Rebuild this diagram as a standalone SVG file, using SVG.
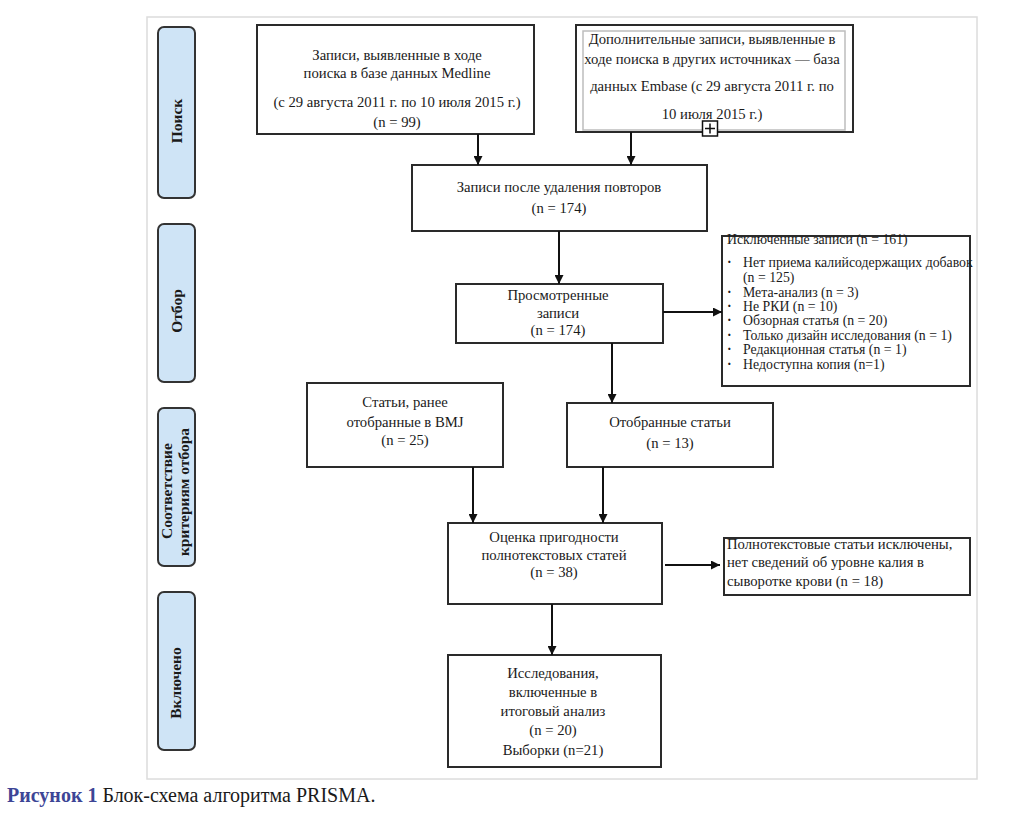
<svg xmlns="http://www.w3.org/2000/svg" width="1024" height="833" viewBox="0 0 1024 833">
<defs>
<marker id="ah" viewBox="0 0 10 10" refX="10" refY="5" markerWidth="9" markerHeight="9" markerUnits="userSpaceOnUse" orient="auto">
<path d="M0,0 L10,5 L0,10 z" fill="#111"/>
</marker>
<style>
.box{fill:#fff;stroke:#2a2a2a;stroke-width:2}
.bar{fill:#cfe4f6;stroke:#333;stroke-width:2}
.t{font-family:"Liberation Serif","Times New Roman",serif;font-size:14.7px;fill:#1a1a1a}
.l{font-size:13.8px}
.b{font-weight:bold}
.c{text-anchor:middle}
.side{font-family:"Liberation Serif","Times New Roman",serif;font-size:15.5px;font-weight:bold;fill:#1a1a1a;text-anchor:middle}
.conn{stroke:#111;stroke-width:2;fill:none;marker-end:url(#ah)}
</style>
</defs>
<rect width="1024" height="833" fill="#fff"/>
<rect x="147" y="17" width="830" height="762" fill="#fff" stroke="#dcdcdc" stroke-width="1.5"/>

<g id="stage-search">
<rect class="bar" x="158" y="27" width="37" height="171" rx="6"/>
<text class="side" transform="translate(182,121) rotate(-90)">Поиск</text>
</g>
<g id="stage-screening">
<rect class="bar" x="158" y="224" width="37" height="158" rx="6"/>
<text class="side" transform="translate(182,311) rotate(-90)">Отбор</text>
</g>
<g id="stage-eligibility">
<rect class="bar" x="158" y="408" width="37" height="158" rx="6"/>
<text class="side" transform="translate(172,491) rotate(-90)">Соответствие</text>
<text class="side" transform="translate(189,492) rotate(-90)">критериям отбора</text>
</g>
<g id="stage-included">
<rect class="bar" x="158" y="592" width="37" height="158" rx="6"/>
<text class="side" transform="translate(181,683) rotate(-90)">Включено</text>
</g>

<g id="medline">
<rect class="box" x="257" y="25" width="277" height="109"/>
<text class="t c" x="397" y="60">Записи, выявленные в ходе</text>
<text class="t c" x="397" y="78">поиска в базе данных Medline</text>
<text class="t c" x="397" y="107">(с 29 августа 2011 г. по 10 июля 2015 г.)</text>
<text class="t c" x="397" y="127">(n = 99)</text>
</g>

<g id="embase">
<rect class="box" x="576" y="25" width="277" height="107"/>
<rect x="583" y="31" width="262" height="99" fill="none" stroke="#bdbdbd" stroke-width="1.5"/>
<text class="t c" x="712" y="44">Дополнительные записи, выявленные в</text>
<text class="t c" x="712" y="64">ходе поиска в других источниках — база</text>
<text class="t c" x="712" y="91">данных Embase (с 29 августа 2011 г. по</text>
<text class="t c" x="712" y="119">10 июля 2015 г.)</text>
<rect x="702.5" y="121" width="15" height="15" fill="#fff" stroke="#111" stroke-width="1.5"/>
<path d="M705 128.5 H715 M710 123.5 V133.5" stroke="#111" stroke-width="1.5"/>
</g>

<g id="dedup">
<rect class="box" x="412" y="165" width="295" height="66"/>
<text class="t c" x="559" y="192">Записи после удаления повторов</text>
<text class="t c" x="559" y="213">(n = 174)</text>
</g>

<g id="screened">
<rect class="box" x="456" y="284" width="207" height="59"/>
<text class="t c" x="558" y="300">Просмотренные</text>
<text class="t c" x="558" y="318">записи</text>
<text class="t c" x="558" y="335">(n = 174)</text>
</g>

<g id="excluded">
<rect class="box" x="722" y="236" width="248" height="150"/>
<text class="t l" x="727" y="244">Исключенные записи (n = 161)</text>
<g class="t l">
<text class="b" x="727" y="267">·</text><text x="743" y="267">Нет приема калийсодержащих добавок</text>
<text x="743" y="282">(n = 125)</text>
<text class="b" x="727" y="297">·</text><text x="743" y="297">Мета-анализ (n = 3)</text>
<text class="b" x="727" y="311">·</text><text x="743" y="311">Не РКИ (n = 10)</text>
<text class="b" x="727" y="325">·</text><text x="743" y="325">Обзорная статья (n = 20)</text>
<text class="b" x="727" y="340">·</text><text x="743" y="340">Только дизайн исследования (n = 1)</text>
<text class="b" x="727" y="354">·</text><text x="743" y="354">Редакционная статья (n = 1)</text>
<text class="b" x="727" y="369">·</text><text x="743" y="369">Недоступна копия (n=1)</text>
</g>
</g>

<g id="bmj">
<rect class="box" x="307" y="383" width="196" height="84"/>
<text class="t c" x="405" y="407">Статьи, ранее</text>
<text class="t c" x="405" y="427">отобранные в BMJ</text>
<text class="t c" x="405" y="445">(n = 25)</text>
</g>

<g id="selected">
<rect class="box" x="567" y="403" width="206" height="64"/>
<text class="t c" x="670" y="427">Отобранные статьи</text>
<text class="t c" x="670" y="448">(n = 13)</text>
</g>

<g id="assessment">
<rect class="box" x="448" y="523" width="214" height="81"/>
<text class="t c" x="554" y="542">Оценка пригодности</text>
<text class="t c" x="554" y="560">полнотекстовых статей</text>
<text class="t c" x="554" y="577">(n = 38)</text>
</g>

<g id="fulltext-excluded">
<rect class="box" x="724" y="538" width="246" height="57"/>
<text class="t" x="727" y="549">Полнотекстовые статьи исключены,</text>
<text class="t" x="727" y="567">нет сведений об уровне калия в</text>
<text class="t" x="727" y="586">сыворотке крови (n = 18)</text>
</g>

<g id="included">
<rect class="box" x="448" y="655" width="213" height="112"/>
<text class="t c" x="553" y="678">Исследования,</text>
<text class="t c" x="553" y="697">включенные в</text>
<text class="t c" x="553" y="716">итоговый анализ</text>
<text class="t c" x="553" y="735">(n = 20)</text>
<text class="t c" x="553" y="755">Выборки (n=21)</text>
</g>

<g id="connectors">
<line class="conn" x1="478" y1="134" x2="478" y2="165"/>
<line class="conn" x1="631" y1="132" x2="631" y2="165"/>
<line class="conn" x1="559" y1="231" x2="559" y2="284"/>
<line class="conn" x1="663" y1="312" x2="722" y2="312"/>
<line class="conn" x1="612" y1="343" x2="612" y2="403"/>
<line class="conn" x1="473" y1="467" x2="473" y2="523"/>
<line class="conn" x1="603" y1="467" x2="603" y2="523"/>
<line class="conn" x1="665" y1="565" x2="720" y2="565"/>
<line class="conn" x1="552" y1="604" x2="552" y2="655"/>
</g>

<g id="caption">
<text x="7" y="802" font-family="Liberation Serif,'Times New Roman',serif" font-size="20" fill="#1a1a1a"><tspan font-weight="bold" fill="#3d4596">Рисунок 1</tspan> Блок-схема алгоритма PRISMA.</text>
</g>
</svg>
